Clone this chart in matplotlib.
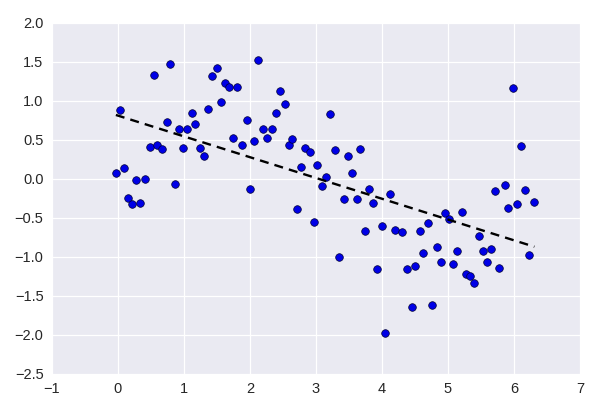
import numpy as np
import matplotlib
matplotlib.use("Agg")
import matplotlib.pyplot as plt

x = [-0.03, 0.03, 0.09, 0.15, 0.21, 0.28, 0.34, 0.41, 0.48, 0.55,
     0.60, 0.67, 0.74, 0.79, 0.86, 0.93, 0.98, 1.05, 1.12, 1.17,
     1.24, 1.31, 1.37, 1.43, 1.50, 1.57, 1.63, 1.68, 1.75, 1.81,
     1.88, 1.95, 2.00, 2.07, 2.13, 2.20, 2.26, 2.34, 2.40, 2.45,
     2.53, 2.59, 2.64, 2.71, 2.78, 2.83, 2.91, 2.97, 3.02, 3.10,
     3.16, 3.21, 3.29, 3.35, 3.43, 3.48, 3.55, 3.62, 3.67, 3.74,
     3.81, 3.86, 3.92, 4.00, 4.05, 4.12, 4.20, 4.30, 4.38, 4.45,
     4.50, 4.57, 4.63, 4.70, 4.76, 4.83, 4.89, 4.95, 5.01, 5.08,
     5.14, 5.21, 5.28, 5.33, 5.40, 5.47, 5.53, 5.59, 5.66, 5.72,
     5.78, 5.86, 5.91, 5.98, 6.04, 6.10, 6.17, 6.23, 6.31]
y = [0.08, 0.88, 0.14, -0.25, -0.32, -0.01, -0.31, 0.00, 0.41, 1.33,
     0.44, 0.38, 0.73, 1.47, -0.06, 0.64, 0.40, 0.64, 0.84, 0.71,
     0.40, 0.29, 0.89, 1.32, 1.42, 0.99, 1.23, 1.18, 0.53, 1.18,
     0.43, 0.76, -0.13, 0.49, 1.52, 0.64, 0.53, 0.64, 0.84, 1.13,
     0.96, 0.44, 0.51, -0.38, 0.15, 0.39, 0.35, -0.55, 0.18, -0.09,
     0.02, 0.83, 0.37, -1.00, -0.26, 0.30, 0.08, -0.26, 0.38, -0.67,
     -0.13, -0.31, -1.16, -0.60, -1.97, -0.19, -0.65, -0.68, -1.15, -1.64,
     -1.12, -0.67, -0.95, -0.56, -1.62, -0.87, -1.06, -0.44, -0.51, -1.09,
     -0.93, -0.43, -1.22, -1.25, -1.34, -0.73, -0.93, -1.06, -0.90, -0.15,
     -1.14, -0.08, -0.37, 1.17, -0.32, 0.42, -0.14, -0.97, -0.29]

x_ticks = [-1, 0, 1, 2, 3, 4, 5, 6, 7]
y_ticks = [-2.5, -2.0, -1.5, -1.0, -0.5, 0.0, 0.5, 1.0, 1.5, 2.0]

plt.rcParams['font.family'] = ['Liberation Sans', 'DejaVu Sans']

fig = plt.figure(figsize=(5.96, 4.16), dpi=100)
ax = fig.add_axes([0.087, 0.101, 0.886, 0.844])
ax.set_facecolor('#EAEAF2')
for s in ax.spines.values():
    s.set_visible(False)
ax.set_axisbelow(True)
ax.grid(True, color='white', linewidth=0.9)

xa = np.array(x)
ya = np.array(y)
ax.scatter(xa, ya, s=30, c='#0000E6', edgecolors='#000033', linewidths=0.5, zorder=3)

slope, intercept = np.polyfit(xa, ya, 1)
xl = np.array([xa.min(), xa.max()])
ax.plot(xl, slope * xl + intercept, color='black', linestyle=(0, (3.8, 2.6)),
        linewidth=1.7, zorder=4)

ax.set_xlim(-1, 7)
ax.set_ylim(-2.5, 2.0)
ax.set_xticks(x_ticks)
ax.set_yticks(y_ticks)
ax.set_yticklabels([f"{v:.1f}".replace('-', '\u2212') for v in y_ticks])
ax.tick_params(length=0, labelsize=10.5, labelcolor='#262626', pad=6)

fig.savefig('out.png', dpi=100)
